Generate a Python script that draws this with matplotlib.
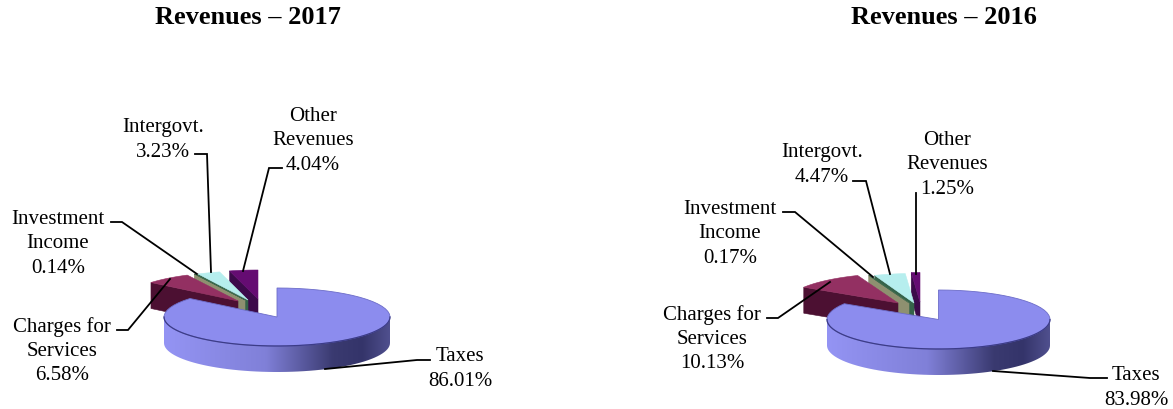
import matplotlib
matplotlib.use("Agg")
import matplotlib.pyplot as plt
from matplotlib.colors import LinearSegmentedColormap
from matplotlib.patches import Polygon
import numpy as np

plt.rcParams['font.family'] = ['Liberation Serif', 'DejaVu Serif']

# data
names = ["Taxes", "Charges for\nServices", "Investment\nIncome", "Intergovt.", "Other\nRevenues"]
shares_2017 = [86.01, 6.58, 0.14, 3.23, 4.04]
shares_2016 = [83.98, 10.13, 0.17, 4.47, 1.25]
titles = ["Revenues \u2013 2017", "Revenues \u2013 2016"]

# slice colours: top face, cut face
top_colors = ["#8c8cee", "#933062", "#3d6a4c", "#b6eeee", "#650c72"]
wall_colors = [None, "#4c1032", "#8e9070", "#35634a", "#3c0a4a"]
side_map = LinearSegmentedColormap.from_list(
    "side", [(0, "#9494f4"), (0.45, "#8080d8"), (0.75, "#3a3a70"), (0.88, "#34346a"), (1, "#50508e")])

DEPTH = 26
N_ARC = 60


def rim(cx, cy, rx, ry, start, stop):
    # start/stop are degrees, clockwise from 12 o'clock
    t = np.radians(np.linspace(start, stop, N_ARC))
    return np.column_stack([cx + rx * np.sin(t), cy - ry * np.cos(t)])


def draw_pie(ax, shares, center, rx, ry, apexes):
    edges = np.concatenate([[0], np.cumsum(shares)]) * 360 / sum(shares)
    # back slices first so the nearer ones cover them
    for i in range(len(shares) - 1, 0, -1):
        cx, cy = apexes[i - 1]
        arc = rim(cx, cy, rx, ry, edges[i], edges[i + 1])
        p0 = arc[0]
        wall = [(cx, cy), tuple(p0), (p0[0], p0[1] + DEPTH), (cx, cy + DEPTH)]
        ax.add_patch(Polygon(wall, fc=wall_colors[i], ec=wall_colors[i], lw=0.4, zorder=2 + len(shares) - i))
        face = np.vstack([[cx, cy], arc])
        ax.add_patch(Polygon(face, fc=top_colors[i], ec=top_colors[i], lw=0.4, zorder=2 + len(shares) - i))

    # taxes: rim wall with shading, then top face
    cx, cy = center
    front = rim(cx, cy, rx, ry, 90, 270)
    side = Polygon(np.vstack([front, (front + [0, DEPTH])[::-1]]), fc="none", ec="none", zorder=9)
    ax.add_patch(side)
    grad = np.linspace(0, 1, 256).reshape(1, -1)
    img = ax.imshow(grad, extent=[cx - rx, cx + rx, cy + ry + DEPTH, cy - DEPTH], cmap=side_map,
                    aspect="auto", zorder=9, interpolation="bilinear")
    img.set_clip_path(side)
    arc = rim(cx, cy, rx, ry, edges[0], edges[1])
    ax.add_patch(Polygon(np.vstack([[cx, cy], arc]), fc=top_colors[0], ec="#6c6cc8", lw=0.6, zorder=10))
    ax.plot(front[:, 0], front[:, 1], color="#3c3c88", lw=0.9, zorder=11)


def label(ax, x, y, name, share):
    ax.text(x, y, f"{name}\n{share:.2f}%", ha="center", va="center", fontsize=15, linespacing=1.38, zorder=20)


def leader(ax, pts):
    xs, ys = zip(*pts)
    ax.plot(xs, ys, color="black", lw=1.3, zorder=15, solid_joinstyle="miter")


fig = plt.figure(figsize=(11.73, 4.10), dpi=100)
ax = fig.add_axes([0, 0, 1, 1])

# 2017
draw_pie(ax, shares_2017, (277, 318), 113, 29, [(238, 302), (245, 301), (248, 301), (258, 300)])
label(ax, 460, 369, names[0], shares_2017[0])
label(ax, 62, 351, names[1], shares_2017[1])
label(ax, 58, 244, names[2], shares_2017[2])
label(ax, 163, 140, names[3], shares_2017[3])
label(ax, 313, 141, names[4], shares_2017[4])
leader(ax, [(430, 361), (417, 361), (325, 370)])
leader(ax, [(117, 331), (128, 331), (170, 280)])
leader(ax, [(111, 223), (122, 223), (197, 275)])
leader(ax, [(195, 155), (207, 155), (211, 273)])
leader(ax, [(282, 169), (269, 169), (243, 272)])

# 2016
draw_pie(ax, shares_2016, (938.5, 320.5), 111.5, 29.5, [(898, 304), (909, 304), (914, 304), (920, 303)])
label(ax, 1136, 388, names[0], shares_2016[0])
label(ax, 712, 339, names[1], shares_2016[1])
label(ax, 730, 234, names[2], shares_2016[2])
label(ax, 822, 165, names[3], shares_2016[3])
label(ax, 947, 165, names[4], shares_2016[4])
leader(ax, [(1107, 379), (1090, 379), (993, 372)])
leader(ax, [(767, 319), (778, 319), (830, 283)])
leader(ax, [(783, 213), (795, 213), (873, 278)])
leader(ax, [(853, 182), (866, 182), (890, 275)])
leader(ax, [(916, 194), (916, 275)])

ax.text(248, 18, titles[0], ha="center", va="center", fontsize=19, fontweight="bold")
ax.text(944, 18, titles[1], ha="center", va="center", fontsize=19, fontweight="bold")

ax.set_xlim(0, 1173)
ax.set_ylim(410, 0)
ax.axis("off")
fig.savefig("out.png", dpi=100)
